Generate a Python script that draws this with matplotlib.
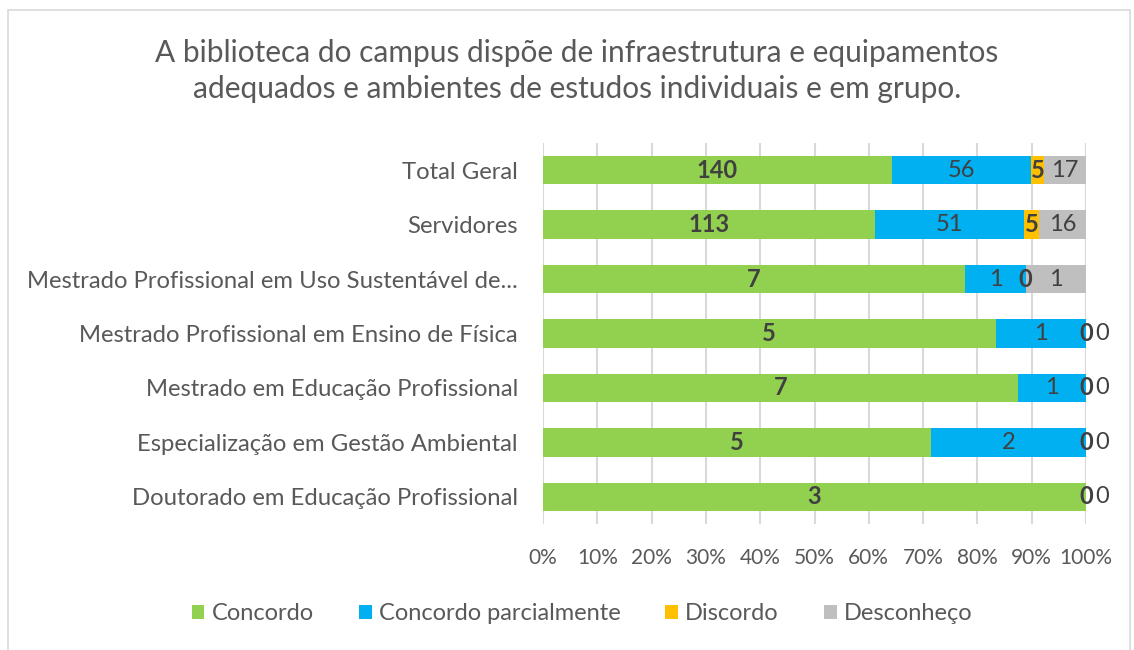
import numpy as np
import matplotlib.pyplot as plt
from matplotlib.patches import Rectangle

plt.rcParams['font.family'] = ['Lato', 'DejaVu Sans']

categorias = [
    'Total Geral',
    'Servidores',
    'Mestrado Profissional em Uso Sustentável de...',
    'Mestrado Profissional em Ensino de Física',
    'Mestrado em Educação Profissional',
    'Especialização em Gestão Ambiental',
    'Doutorado em Educação Profissional',
]
concordo = [140, 113, 7, 5, 7, 5, 3]
parcial = [56, 51, 1, 1, 1, 2, 0]
discordo = [5, 5, 0, 0, 0, 0, 0]
desconheco = [17, 16, 1, 0, 0, 0, 0]

series = ['Concordo', 'Concordo parcialmente', 'Discordo', 'Desconheço']
cores = ['#92D050', '#00B0F0', '#FFC000', '#BFBFBF']
negrito = [True, False, True, False]

valores = np.array([concordo, parcial, discordo, desconheco], dtype=float)
totais = valores.sum(axis=0)
pct = valores / totais

fig = plt.figure(figsize=(11.34, 6.5), dpi=100)
ax = fig.add_axes([543 / 1134, 1 - 524 / 650, 543 / 1134, 381 / 650])

# borda da área do gráfico
fig.patches.append(Rectangle((8 / 1134, -0.01), 1122 / 1134, 1 - 10 / 650 + 0.01,
                             transform=fig.transFigure, fill=False,
                             edgecolor='#D9D9D9', linewidth=1.2))

y = np.arange(len(categorias))[::-1]
texto = '#404040'
esquerda = np.zeros(len(categorias))
for k in range(4):
    ax.barh(y, pct[k], left=esquerda, height=0.52, color=cores[k], zorder=2,
            label=series[k])
    for i in range(len(categorias)):
        v = valores[k, i]
        peso = 'bold' if negrito[k] else 'normal'
        x = esquerda[i] + pct[k, i] / 2
        if v == 0:
            # rótulos zerados ficam no fim da barra; o de parcialmente some
            if k == 1:
                continue
            if k == 3:
                x = esquerda[i] + 0.03
        ax.text(x, y[i], f'{int(v)}', ha='center', va='center', fontsize=17,
                fontweight=peso, color=texto, zorder=3)
    esquerda = esquerda + pct[k]

ax.set_xlim(0, 1)
ax.set_ylim(-0.5, len(categorias) - 0.5)
ax.set_xticks(np.linspace(0, 1, 11))
ax.set_xticklabels([f'{int(t)}%' for t in np.linspace(0, 100, 11)],
                   fontsize=15, color='#595959')
ax.set_yticks(y)
ax.set_yticklabels(categorias, fontsize=17.2, color='#595959')
ax.tick_params(axis='both', length=0)
ax.tick_params(axis='y', pad=18)
ax.tick_params(axis='x', pad=17)
ax.grid(axis='x', color='#D9D9D9', linewidth=1.5, zorder=0)
ax.set_axisbelow(True)
for s in ax.spines.values():
    s.set_visible(False)

fig.text(577 / 1134, 1 - 71 / 650,
         'A biblioteca do campus dispõe de infraestrutura e equipamentos\n'
         'adequados e ambientes de estudos individuais e em grupo.',
         ha='center', va='center', fontsize=21.5, color='#595959',
         linespacing=1.36)

ax.legend(loc='center', bbox_to_anchor=(582 / 1134, 1 - 614 / 650),
          bbox_transform=fig.transFigure, ncol=4, frameon=False, fontsize=17,
          handlelength=0.55, handleheight=0.55, handletextpad=0.3,
          columnspacing=1.9, labelcolor='#595959')

fig.savefig('out.png', dpi=100)
